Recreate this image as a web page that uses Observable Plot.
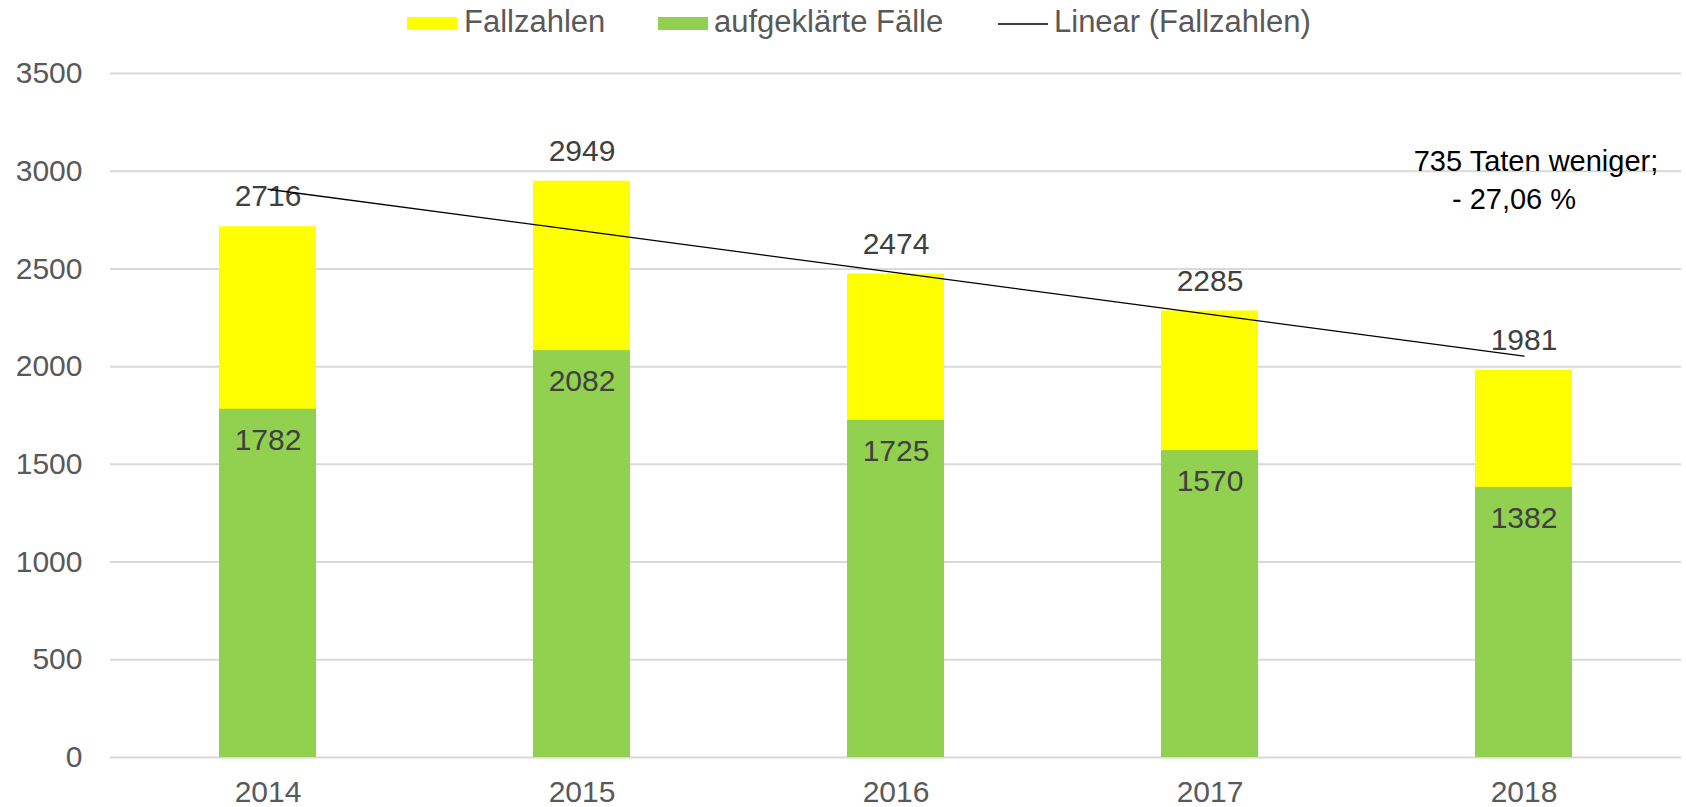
<!DOCTYPE html>
<html>
<head>
<meta charset="utf-8">
<script src="https://cdn.jsdelivr.net/npm/d3@7"></script>
<script src="https://cdn.jsdelivr.net/npm/@observablehq/plot@0.6"></script>
<style>
  body { margin: 0; background: #fff; font-family: "Liberation Sans", Arial, sans-serif; }
  #wrap { position: relative; width: 1686px; height: 807px; overflow: hidden; }
  #legend { position: absolute; left: 0; top: 0; width: 1686px; height: 44px; z-index: 2; }
  .sw { position: absolute; }
  .lt { position: absolute; top: 7px; font-size: 31px; line-height: 30px; color: #595959; white-space: nowrap; }
  #chart { position: absolute; left: 0; top: 0; }
</style>
</head>
<body>
<div id="wrap">
  <div id="legend"></div>
  <div id="chart"></div>
</div>
<script>
// ---- data ----
const years = ["2014", "2015", "2016", "2017", "2018"];
const fallzahlen = [2716, 2949, 2474, 2285, 1981];
const aufgeklaert = [1782, 2082, 1725, 1570, 1382];
const yTicks = [0, 500, 1000, 1500, 2000, 2500, 3000, 3500];
const seriesNames = ["Fallzahlen", "aufgeklärte Fälle", "Linear (Fallzahlen)"];
const annotationLines = ["735 Taten weniger;", "- 27,06 %"];

// colors / style
const YELLOW = "#FFFF00";
const GREEN = "#92D050";
const GRID = "#D9D9D9";
const LABEL = "#404040";
const AXIS = "#595959";

// table built from arrays
const rows = years.map((y, i) => ({ year: y, total: fallzahlen[i], solved: aufgeklaert[i], idx: i }));

// linear trend of Fallzahlen (least squares, computed from the data)
const mx = d3.mean(rows, d => d.idx);
const my = d3.mean(rows, d => d.total);
const slope = d3.sum(rows, d => (d.idx - mx) * (d.total - my)) / d3.sum(rows, d => (d.idx - mx) ** 2);
const trend = rows.map(d => ({ year: d.year, value: my + slope * (d.idx - mx) }));

const annoAnchor = [{ year: years[years.length - 1], value: 2952 }];

const FONT = "Liberation Sans, Arial, sans-serif";

const chart = Plot.plot({
  width: 1686,
  height: 807,
  marginTop: 73,
  marginBottom: 50,
  marginLeft: 110,
  marginRight: 5,
  style: { fontFamily: FONT, fontSize: "30px", background: "transparent", overflow: "visible" },
  x: { domain: years, paddingInner: 0.69, paddingOuter: 0.345, label: null },
  y: { domain: [0, 3500], label: null },
  marks: [
    Plot.ruleY(yTicks, { stroke: GRID, strokeWidth: 2 }),
    Plot.barY(rows, { x: "year", y: "total", fill: YELLOW }),
    Plot.barY(rows, { x: "year", y: "solved", fill: GREEN }),
    Plot.text(rows, { x: "year", y: "total", text: d => String(d.total), dy: -30, fill: LABEL, fontSize: 30 }),
    Plot.text(rows, { x: "year", y: "solved", text: d => String(d.solved), dy: 31, fill: LABEL, fontSize: 30 }),
    Plot.line(trend, { x: "year", y: "value", stroke: "#000", strokeWidth: 1.3 }),
    Plot.text(annoAnchor, { x: "year", y: "value", text: () => annotationLines[0], dx: 12, dy: -19, fill: "#000", fontSize: 29 }),
    Plot.text(annoAnchor, { x: "year", y: "value", text: () => annotationLines[1], dx: -10, dy: 19, fill: "#000", fontSize: 29 }),
    Plot.axisY(yTicks, { tickSize: 0, tickPadding: 28, fontSize: 30, color: AXIS, tickFormat: d => String(d) }),
    Plot.axisX({ tickSize: 0, tickPadding: 23, fontSize: 30, color: AXIS })
  ]
});
document.getElementById("chart").appendChild(chart);

// ---- legend (HTML, above the plot area) ----
const legend = document.getElementById("legend");
const legendItems = [
  { name: seriesNames[0], kind: "box", color: YELLOW, swLeft: 407, textLeft: 464 },
  { name: seriesNames[1], kind: "box", color: GREEN, swLeft: 658, textLeft: 714 },
  { name: seriesNames[2], kind: "line", color: "#404040", swLeft: 998, textLeft: 1054 }
];
legendItems.forEach(it => {
  const sw = document.createElement("div");
  sw.className = "sw";
  sw.style.left = it.swLeft + "px";
  sw.style.width = "50px";
  if (it.kind === "box") {
    sw.style.top = "17px"; sw.style.height = "13px"; sw.style.background = it.color;
  } else {
    sw.style.top = "23px"; sw.style.height = "2px"; sw.style.background = it.color;
  }
  legend.appendChild(sw);
  const t = document.createElement("div");
  t.className = "lt";
  t.style.left = it.textLeft + "px";
  t.textContent = it.name;
  legend.appendChild(t);
});
</script>
</body>
</html>
